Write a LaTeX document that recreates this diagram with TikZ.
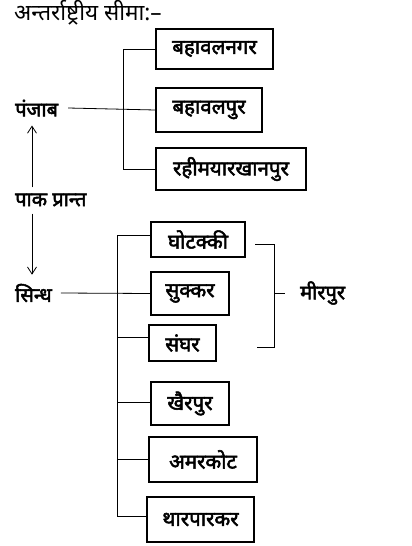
\documentclass[tikz,border=0pt]{standalone}
\usepackage{fontspec}
\newfontfamily\hindi[Script=Devanagari]{Noto Sans}
\newfontfamily\hindibold[Script=Devanagari, FakeBold=2.5]{Noto Sans}
\usetikzlibrary{positioning, arrows.meta}

\begin{document}
\begin{tikzpicture}[x=1pt, y=-1pt,
	place/.style={rectangle, draw=black, line width=1.3pt, inner sep=0pt, font=\hindibold\fontsize{20.5}{24}\selectfont},
	state/.style={inner sep=2pt, font=\hindibold\fontsize{20}{24}\selectfont},
	link/.style={line width=0.8pt},
	>={Straight Barb[length=7pt, width=9pt]},
	]
	\useasboundingbox (0,0) rectangle (412,546);
		%Nodes
    \node[anchor=west, inner sep=0pt, font=\hindi\fontsize{22.5}{26}\selectfont] (title) at (14,13) {अन्तर्राष्ट्रीय सीमा:–};
    \node[state, anchor=west] (punjab)  at (13,108)      {पंजाब};
    \node[state, anchor=west] (pak)     at (13,200)      {पाक प्रान्त};
    \node[state, anchor=west] (sindh)   at (13,293)      {सिन्ध};
    \node[state, anchor=west] (mirpur)  at (298,293)     {मीरपुर};

    \node[place, minimum width=117, minimum height=40] (bnagar) at (214.5,49)  {बहावलनगर};
    \node[place, minimum width=106, minimum height=44] (bpur)   at (209,110)   {बहावलपुर};
    \node[place, minimum width=150, minimum height=42] (rahim)  at (231,169)   {रहीमयारखानपुर};

    \node[place, minimum width=94,  minimum height=35] (ghotki)  at (198,239.5) {घोटक्की};
    \node[place, minimum width=78,  minimum height=43] (sukkar)  at (190,293.5) {सुक्कर};
    \node[place, minimum width=67,  minimum height=36] (sanghar) at (182.5,343) {संघर};
    \node[place, minimum width=78,  minimum height=43] (khair)   at (190,403.5) {खैरपुर};
    \node[place, minimum width=108, minimum height=45] (amar)    at (203,459.5) {अमरकोट};
    \node[place, minimum width=107, minimum height=45] (thar)    at (200.5,519.5) {थारपारकर};

    \coordinate (arrx)  at (32,0);
    \coordinate (pbus)  at (123,0);
    \coordinate (sbus)  at (117,0);
    \coordinate (mtop)  at (255,244);
    \coordinate (mbot)  at (257,347);
    \coordinate (mbar)  at (274,0);

		%Lines
		\draw[link] ([xshift=8pt]punjab.east) -- (bpur.west);
		\draw[link] (bnagar.west) -- (bnagar.west -| pbus) -- (rahim.west -| pbus) -- (rahim.west);
		\draw[link] ([xshift=7pt]sindh.east) -- (sukkar.west);
		\draw[link] ([yshift=4.5pt]ghotki.west) -- ([yshift=4.5pt]ghotki.west -| sbus) -- ([yshift=3.5pt]thar.west -| sbus) -- ([yshift=3.5pt]thar.west);
		\draw[link] ([yshift=6pt]sanghar.west) -- ([yshift=6pt]sanghar.west -| sbus);
		\draw[link] ([yshift=1.5pt]khair.west) -- ([yshift=1.5pt]khair.west -| sbus);
		\draw[link] (amar.west) -- (amar.west -| sbus);
		\draw[link] (mtop) -- (mtop -| mbar) -- (mbot -| mbar) -- (mbot);
		\draw[link] (mirpur.west -| mbar) -- ([xshift=-13pt]mirpur.west);
		\draw[link, ->] ([yshift=4pt]pak.north -| arrx) -- ([yshift=-7pt]punjab.south -| arrx);
		\draw[link, ->] ([yshift=-5pt]pak.south -| arrx) -- ([yshift=7pt]sindh.north -| arrx);
	\end{tikzpicture}
\end{document}
